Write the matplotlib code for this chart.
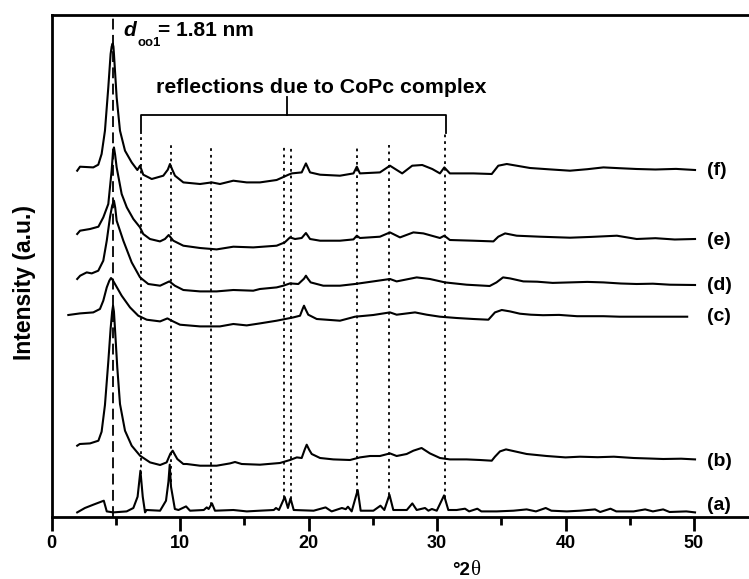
import numpy as np
import matplotlib
matplotlib.use("Agg")
import matplotlib.pyplot as plt

plt.rcParams['font.family'] = ['Liberation Sans', 'DejaVu Sans']

# ---- data (2-theta in degrees, stacked intensity in arbitrary units) ----
a_x = [2.0, 2.6, 3.25, 4.07, 4.3, 4.8, 5.85, 6.37, 6.7, 6.92, 7.1, 7.28, 7.4, 8.45, 8.91, 9.1, 9.2, 9.3, 9.6, 9.88,
       10.47, 10.78, 11.85, 12.08, 12.23, 12.49, 12.72, 14.15, 15.2, 16.2, 17.3, 17.47, 17.7, 18.15, 18.4,
       18.6, 18.85, 20.4, 21.33, 21.8, 22.6, 22.9, 23.07, 23.36, 23.83, 24.06, 25.05, 25.6, 25.9, 26.3,
       26.6, 27.65, 28.08, 28.42, 29.07, 29.33, 29.6, 29.98, 30.55, 30.88, 31.53, 32.18, 32.5, 33.14,
       33.45, 34.65, 35.95, 36.98, 37.7, 38.46, 38.9, 40.1, 41.13, 42.3, 42.7, 43.5, 43.95, 45.3, 46.2,
       46.8, 47.6, 48.1, 49.4, 50.08]
a_y = [4.3, 8.7, 12, 16, 5.3, 4.3, 5.3, 8.7, 20, 46, 20, 4.3, 6.7, 6, 16, 35, 52, 30, 7.7, 6.7,
       10.3, 6, 6.7, 9.3, 7.7, 13.3, 6, 6.7, 5.3, 6, 6.7, 8.7, 6.7, 19.7, 8.7,
       18.3, 6.7, 6, 9.3, 5.3, 8.7, 7.5, 10, 5.3, 26.7, 6, 6, 11, 6.7, 22,
       6.7, 6.7, 13.3, 6.7, 8.7, 6, 7.7, 6, 21.3, 6.7, 6.7, 8, 5.3, 8,
       5.3, 5.3, 6, 7.3, 5.3, 8.7, 6, 5.3, 6, 7.3, 4.7, 8, 5.3, 5.3, 7.3,
       5.3, 7.3, 4.7, 5.3, 4.3]

b_x = [2.0, 2.2, 3.0, 3.65, 3.9, 4.16, 4.42, 4.6, 4.72, 4.79, 4.86, 4.94, 5.12, 5.33, 5.72, 6.24, 6.89, 7.67, 8.45,
       8.96, 9.25, 9.43, 9.6, 9.79, 10.26, 10.52, 11.56, 12.85, 13.89, 14.28, 14.8, 16.22, 17.78, 18.56, 19.09,
       19.47, 19.7, 19.86, 20.05, 20.25, 20.9, 21.93, 23.23, 24.0, 24.79, 25.56, 26.34, 26.86, 27.64, 28.16, 28.8,
       29.45, 30.23, 31.0, 32.3, 33.35, 34.26, 34.51, 34.9, 35.37, 36.07, 36.98, 38.53, 40.0, 41.13, 42.5,
       43.76, 45.3, 46.5, 47.6, 49.0, 50.08]
b_y = [71, 72.7, 73.3, 76, 85, 111.7, 155, 188, 205, 211, 205, 188, 149, 112.7, 86, 71, 61, 54.3, 51.7,
       54.3, 63, 66, 62, 57.7, 52.7, 52.7, 51, 51, 53.3, 54.7, 52.7, 52, 53.7, 56.7, 59.3,
       58.7, 67, 72, 67, 62.7, 58.7, 57.3, 56.7, 59.3, 60.7, 60.7, 63.3, 60.7, 62.7, 66, 68.7,
       63.3, 58.7, 57.3, 57.3, 56.7, 56, 60, 65.3, 67.3, 65.3, 62.7, 60.7, 59.3, 60, 59.5,
       60, 58.7, 58.2, 57.7, 58, 57.3]

c_x = [1.31, 2.22, 3.25, 3.77, 4.03, 4.3, 4.5, 4.63, 4.75, 4.94, 5.46, 6.11, 6.75, 7.41, 8.45, 9.02, 9.35, 10.0,
       11.56, 13.11, 14.15, 15.19, 16.22, 17.52, 18.04, 18.82, 19.34, 19.55, 19.65, 19.75, 19.98, 20.64, 22.45,
       23.62, 25.04, 26.34, 26.86, 28.29, 29.2, 30.23, 31.53, 32.83, 34.0, 34.51, 35.04, 35.68,
       36.45, 37.3, 38.25, 39.5, 40.9, 42.95, 44.2, 49.47]
c_y = [201.7, 203.3, 204.3, 207.7, 216, 229.3, 236, 238.7, 237, 232.7, 221, 209.3, 201, 197, 195.3, 198.3, 196, 192,
       190.3, 190.3, 192.7, 191.3, 193.3, 196, 197.3, 199.3, 201, 208, 211, 208, 202, 197.7, 196,
       200, 201.7, 204.3, 202, 204.3, 202, 200, 198.7, 197.7, 197, 204.3, 206.7, 205.3,
       203, 202, 201.5, 201.8, 200.5, 200.5, 200, 200]

d_x = [2.0, 2.23, 2.74, 3.13, 3.64, 4.03, 4.3, 4.55, 4.72, 4.86, 4.96, 5.07, 5.59, 6.24, 6.89, 7.53, 8.45, 9.17,
       9.6, 10.26, 11.56, 12.85, 14.15, 15.7, 16.22, 17.52, 18.04, 18.56, 19.21, 19.65, 19.8, 19.95, 20.17, 21.15,
       22.45, 23.62, 25.04, 26.34, 26.86, 28.42, 29.45, 30.62, 32.3, 34.1, 34.63, 35.14, 35.68,
       36.72, 37.8, 39.0, 40.35, 41.7, 42.95, 44.3, 45.54, 46.8, 48.13, 50.08]
d_y = [237.7, 241, 244.3, 243.3, 246, 256, 276, 299.3, 311, 316, 309, 296, 276, 254.3, 239.3, 232.7, 231, 235.3,
       231, 226.7, 225.3, 225.3, 226.7, 226, 227.7, 229.3, 231, 233.3, 232.7, 238, 241, 238, 234.3, 231,
       231, 232.7, 235.3, 237.7, 235.3, 239.3, 237.7, 234.3, 232, 230.7, 234.3, 239.3, 238.3,
       235.3, 235, 233.8, 234.3, 234.8, 234.3, 233.2, 232.7, 233, 232, 231.7]

e_x = [2.0, 2.22, 3.0, 3.65, 4.03, 4.42, 4.68, 4.78, 4.86, 4.95, 5.07, 5.46, 5.86, 6.37, 6.89, 7.14, 7.66, 8.44,
       8.83, 9.12, 9.48, 10.26, 11.56, 12.85, 14.15, 15.7, 17.52, 18.15, 18.56, 18.95, 19.47, 19.8,
       20.12, 20.9, 22.45, 23.5, 23.76, 24.0, 25.56, 26.34, 27.12, 28.16, 28.94, 30.23, 30.57, 31.0,
       32.83, 34.39, 34.77, 35.3, 36.2, 38.02, 40.35, 42.0, 44.0, 45.54, 47.0, 48.5, 50.08]
e_y = [282.7, 286, 287.7, 290, 299.3, 312.7, 346, 364, 369.3, 362, 349.3, 322.7, 309.3, 297.7, 289.3, 282.7, 277.7, 275.3,
       277.7, 281.7, 276, 271, 268.7, 267.3, 270, 269.3, 271, 274.3, 279.3, 277.7, 278.7, 283.7,
       277.7, 276, 276, 277.3, 281, 278.7, 280, 284.3, 279.3, 284.3, 283.3, 278.7, 281, 276.7,
       276, 275.3, 280, 283.3, 281, 280, 279, 279.8, 281, 277.7, 278.5, 277.2, 277.7]

f_x = [2.0, 2.22, 3.25, 3.64, 3.9, 4.16, 4.42, 4.6, 4.68, 4.76, 4.82, 4.86, 5.07, 5.33, 5.72, 6.24, 6.68, 6.89,
       7.14, 7.8, 8.7, 9.05, 9.22, 9.4, 9.61, 10.26, 11.56, 12.47, 13.11, 14.15, 15.19, 16.22, 17.52, 18.1,
       18.44, 18.7, 19.47, 19.8, 20.12, 20.9, 22.45, 23.5, 23.76, 24.0, 25.56, 26.34, 27.29, 28.07,
       28.85, 29.63, 30.23, 30.57, 31.0, 32.83, 34.26, 34.77, 35.43, 36.2, 37.24, 38.8, 40.35, 41.7, 42.95,
       44.2, 45.54, 47.0, 48.6, 50.08]
f_y = [346, 350, 349.3, 352, 362.7, 386, 429.3, 462.7, 470, 473.3, 470, 462.7, 419.3, 386, 366, 354.3, 346.7, 351,
       342, 337.7, 341, 347, 352.7, 347, 341, 334.3, 332.7, 334.3, 332.7, 336, 334.3, 334.3, 336.7, 340,
       342, 343.3, 344.3, 353.3, 344.3, 342, 341, 343.3, 350, 343.3, 344.3, 351, 343.3, 351,
       351.7, 347.7, 343.3, 349.3, 343.3, 343.3, 342.7, 351, 352.7, 351, 348.7, 347.3, 346, 347.5, 349.3,
       348.5, 347.7, 347.2, 347.8, 346.7]

trace_names = ['(a)', '(b)', '(c)', '(d)', '(e)', '(f)']
label_levels = [11.7, 55, 200, 231.7, 276.7, 346.7]

d001_pos = 4.78
copc_pos = [6.94, 9.28, 12.41, 18.12, 18.61, 23.78, 26.29, 30.62]

# ---- figure ----
W, H = 749, 579
fig = plt.figure(figsize=(W / 100, H / 100), dpi=100)
ax_left, ax_bottom, ax_top = 51.5, 516.7, 15
ax = fig.add_axes([ax_left / W, (H - ax_bottom) / H, 1 - ax_left / W, (ax_bottom - ax_top) / H])
ax.set_xlim(0, (W - ax_left) / 12.85)
ax.set_ylim(0, ax_bottom - ax_top)

traces = [(a_x, a_y), (b_x, b_y), (c_x, c_y), (d_x, d_y), (e_x, e_y), (f_x, f_y)]
for (xs, ys) in traces:
    ax.plot(xs, ys, color='black', lw=1.5, solid_joinstyle='round', zorder=3)

# d001 dashed line
ax.plot([d001_pos, d001_pos], [0, 499], color='black', lw=1.3, ls=(0, (6, 3)), zorder=2)

# CoPc dotted lines
for p in copc_pos:
    bottom = np.interp(p, a_x, a_y)
    top = 383.7 if p in (copc_pos[0], copc_pos[-1]) else 371.7
    ax.plot([p, p], [bottom, top], color='black', lw=1.3, ls=(0, (1.5, 2.2)), zorder=2)

# bracket
bx0, bx1 = copc_pos[0], copc_pos[-1] + 0.1
ax.plot([bx0, bx0, bx1, bx1], [383.7, 401.7, 401.7, 383.7], color='black', lw=1.3, zorder=2)
ax.plot([18.3, 18.3], [401.7, 420], color='black', lw=1.3, zorder=2)
ax.text(21.0, 423.7, 'reflections due to CoPc complex', ha='center', va='baseline',
        fontsize=15.3, fontweight='bold')

# d001 label
ax.text((123 - ax_left) / 12.85, 480.7, 'd', fontsize=15, fontweight='bold', fontstyle='italic',
        ha='left', va='baseline')
ax.text((137 - ax_left) / 12.85, 470.7, 'oo1', fontsize=9.5, fontweight='bold', ha='left', va='baseline')
ax.text((158 - ax_left) / 12.85, 480.7, '= 1.81 nm', fontsize=15, fontweight='bold',
        ha='left', va='baseline')

# trace labels
for name, lv in zip(trace_names, label_levels):
    ax.text((707 - ax_left) / 12.85, lv, name, fontsize=14, fontweight='bold', ha='left', va='center')

# axes styling
for s in ['left', 'top', 'bottom']:
    ax.spines[s].set_linewidth(2)
ax.spines['right'].set_visible(False)
ax.set_yticks([])
ax.set_xticks([0, 10, 20, 30, 40, 50])
ax.set_xticks([5, 15, 25, 35, 45], minor=True)
ax.tick_params(axis='x', which='major', direction='out', length=10, width=2, pad=3, labelsize=13)
ax.tick_params(axis='x', which='minor', direction='out', length=6, width=2)
for lab in ax.get_xticklabels():
    lab.set_fontweight('bold')

# axis labels
fig.text(24 / W, 1 - 282 / H, 'Intensity (a.u.)', rotation=90, ha='center', va='center',
         fontsize=16.5, fontweight='bold')
fig.text(470 / W, 1 - 575 / H, '\u00b02', ha='right', va='baseline', fontsize=13.5, fontweight='bold')
fig.text(470.5 / W, 1 - 575 / H, '\u03b8', ha='left', va='baseline', fontsize=15,
         family=['Liberation Serif', 'DejaVu Serif'])

fig.savefig('out.png', dpi=100)
